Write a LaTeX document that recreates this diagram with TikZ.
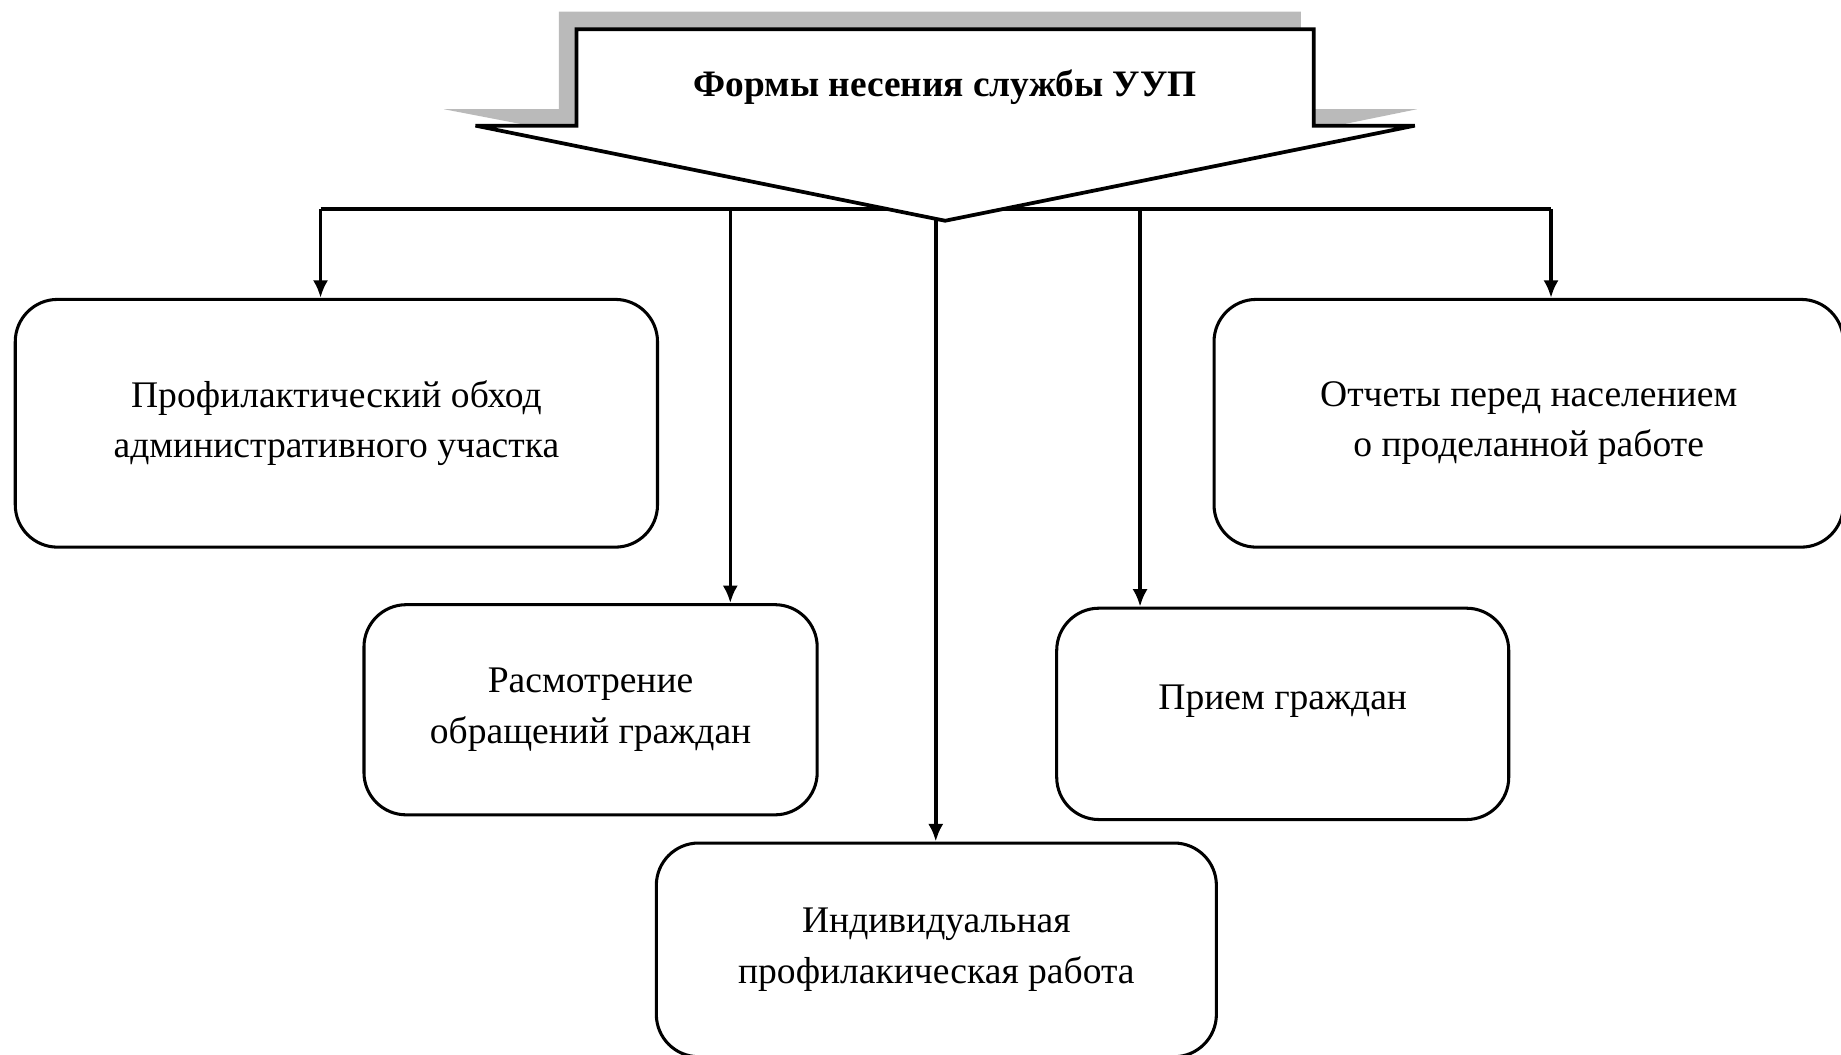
\documentclass[tikz,border=0pt]{standalone}
\usepackage{fontspec}
\setmainfont{Liberation Serif}
\usetikzlibrary{arrows.meta}
\begin{document}
\begin{tikzpicture}[x=1pt,y=-1pt,
  box/.style={draw, line width=2.6pt, rounded corners=36pt, align=center,
    font=\fontsize{32}{43}\selectfont, inner sep=0pt},
  txt/.style={align=center, font=\fontsize{32}{43}\selectfont, inner sep=0pt},
  conn/.style={line width=3pt, -{Latex[length=15pt,width=13pt]}},
  bus/.style={line width=3pt},
  shadowcol/.style={fill=black!27},
  bigarrow/.style={draw, line width=3.2pt, fill=white, line join=miter}]
\useasboundingbox (0,0) rectangle (1568,898);

% boxes
\node[box, minimum width=547pt, minimum height=211pt] (b1) at (286.5,360.5)
  {Профилактический обход\\административного участка};
\node[box, minimum width=536pt, minimum height=211pt] (b2) at (1302,360.5)
  {Отчеты перед населением\\о проделанной работе};
\node[box, minimum width=386pt, minimum height=179pt] (b3) at (503,604.5)
  {Расмотрение\\обращений граждан};
\node[box, minimum width=385pt, minimum height=180pt] (b4) at (1092.5,608) {};
\node[txt] (t4) at (1092.5,597) {Прием граждан};
\node[box, minimum width=477pt, minimum height=182pt] (b5) at (797.5,809)
  {Индивидуальная\\профилакическая работа};

% bus and connectors
\coordinate (p1) at (273,178);
\coordinate (p2) at (622,178);
\coordinate (p3) at (797,186);
\coordinate (p4) at (971,178);
\coordinate (p5) at (1321,178);
\draw[bus] (p1) -- (p5);
\draw[conn] (p1) -- (p1 |- b1.north);
\draw[conn] (p2) -- (p2 |- b3.north);
\draw[conn] (p3) -- (p3 |- b5.north);
\draw[conn] (p4) -- (p4 |- b4.north);
\draw[conn] (p5) -- (p5 |- b2.north);

% shadow of header arrow
\fill[shadowcol] (378,93) -- (476,93) -- (476,10) -- (1108,10) -- (1108,93)
  -- (1207,93) -- (805,175) -- cycle;
% header arrow
\draw[bigarrow] (491,25) -- (1119,25) -- (1119,107) -- (1205,107) -- (805,188)
  -- (405,107) -- (491,107) -- cycle;
\node[font=\bfseries\fontsize{31.8}{38}\selectfont] (title) at (805,74)
  {Формы несения службы УУП};
\end{tikzpicture}
\end{document}
